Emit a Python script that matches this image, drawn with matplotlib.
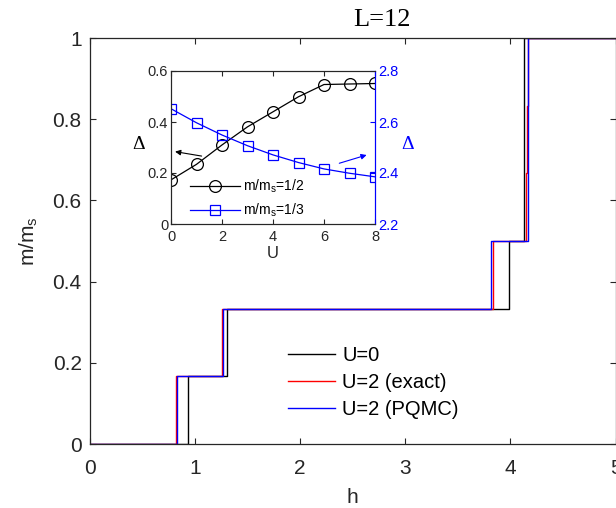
import matplotlib
matplotlib.use("Agg")
import matplotlib.pyplot as plt

plt.rcParams['font.family'] = ['Liberation Sans', 'DejaVu Sans']
plt.rcParams['mathtext.fontset'] = 'custom'
plt.rcParams['mathtext.rm'] = 'Liberation Sans'
plt.rcParams['mathtext.it'] = 'Liberation Sans'

# ---- main data: magnetization steps ----
m_levels = [0, 1/6, 1/3, 1/2, 2/3, 5/6, 1, 1]
h_U0 = [0, 0.93, 1.30, 3.985, 4.125, 4.128, 4.131, 5.2]
h_U2_exact = [0, 0.82, 1.26, 3.83, 4.152, 4.155, 4.165, 5.2]
h_U2_pqmc = [0, 0.825, 1.265, 3.82, 4.168, 4.17, 4.172, 5.2]
series_labels = ['U=0', 'U=2 (exact)', 'U=2 (PQMC)']
series_colors = ['black', 'red', 'blue']

x_ticks = [0, 1, 2, 3, 4, 5]
y_ticks = [0, 0.2, 0.4, 0.6, 0.8, 1]

# ---- inset data ----
U_vals = [0, 1, 2, 3, 4, 5, 6, 7, 8]
gap_half = [0.173, 0.234, 0.310, 0.381, 0.440, 0.499, 0.547, 0.549, 0.551]
gap_third = [2.652, 2.597, 2.549, 2.507, 2.471, 2.441, 2.416, 2.399, 2.385]
inset_labels = ['m/m$_\\mathregular{s}$=1/2', 'm/m$_\\mathregular{s}$=1/3']

W, H = 616, 508
fig = plt.figure(figsize=(W/100, H/100), dpi=100)

def fr(x0, y0, x1, y1):
    return [x0/W, 1 - y1/H, (x1-x0)/W, (y1-y0)/H]

spine_c = '#262626'
ax = fig.add_axes(fr(90, 38, 615.5, 444))
hs = [h_U0, h_U2_exact, h_U2_pqmc]
for h, lab, c in zip(hs, series_labels, series_colors):
    ax.plot(h, m_levels, drawstyle='steps-post', color=c, lw=1.0, label=lab)
ax.set_xlim(0, 5)
ax.set_ylim(0, 1)
ax.set_xticks(x_ticks)
ax.set_yticks(y_ticks)
ax.set_yticklabels(['0', '0.2', '0.4', '0.6', '0.8', '1'])
ax.tick_params(direction='in', top=True, right=True, length=4.5, width=0.8,
               color=spine_c, labelsize=15, labelcolor='#262626')
ax.tick_params(axis='x', pad=11)
ax.tick_params(axis='y', pad=6)
for s in ax.spines.values():
    s.set_color(spine_c)
    s.set_linewidth(0.9)
ax.set_xlabel('h', fontsize=15, color='#262626')
ax.xaxis.set_label_coords(0.5, -0.108)
ax.set_ylabel('m/m$_\\mathregular{s}$', fontsize=15, color='#262626')
ax.yaxis.set_label_coords(-0.095, 0.5)
leg = ax.legend(loc='upper left', bbox_to_anchor=((288-90)/525.5, (444-346)/406),
                frameon=False, fontsize=14.5, handlelength=2.35, handletextpad=0.35,
                labelspacing=0.39, borderaxespad=0, borderpad=0)

fig.text(382/W, 1 - 26.5/H, 'L=12', family='Liberation Serif', fontsize=19,
         ha='center', va='baseline')

# ---- inset ----
ai = fig.add_axes(fr(171, 71, 375, 224))
l1, = ai.plot(U_vals, gap_half, '-o', color='black', lw=0.9, ms=8.5,
              mfc='none', mew=0.9, label=inset_labels[0])
ai.set_xlim(0, 8)
ai.set_ylim(0, 0.6)
ai.set_xticks([0, 2, 4, 6, 8])
ai.set_yticks([0, 0.2, 0.4, 0.6])
ai.set_yticklabels(['0', '0.2', '0.4', '0.6'])
ai.tick_params(direction='in', top=True, length=3.5, width=0.8, labelsize=10.5,
               color=spine_c, labelcolor='#262626')
ai.tick_params(axis='y', pad=2)
ai.tick_params(axis='x', pad=4)
ai.set_xlabel('U', fontsize=12, color='#262626', labelpad=2)
ai2 = ai.twinx()
l2, = ai2.plot(U_vals, gap_third, '-s', color='blue', lw=0.9, ms=7,
               mfc='none', mew=0.9, label=inset_labels[1])
ai2.set_ylim(2.2, 2.8)
ai2.set_yticks([2.2, 2.4, 2.6, 2.8])
ai2.tick_params(direction='in', length=3.5, width=0.8, labelsize=10.5,
                color='blue', labelcolor='blue', pad=2)
for s in ['left', 'top', 'bottom']:
    ai.spines[s].set_color(spine_c)
    ai2.spines[s].set_color(spine_c)
ai2.spines['right'].set_color('blue')
ai.spines['right'].set_color('blue')

ai2.legend(handles=[l1, l2], loc='upper left',
           bbox_to_anchor=((190-171)/204, (224-178)/153), frameon=False,
           fontsize=10, handlelength=3.6, handletextpad=0.22, labelspacing=0.45,
           borderaxespad=0, borderpad=0)

ai.annotate('', xy=(0.02, 0.473), xytext=(0.15, 0.444), xycoords='axes fraction',
            arrowprops=dict(arrowstyle='-|>', color='black', lw=0.8,
                            mutation_scale=8, shrinkA=0, shrinkB=0))
ai.annotate('', xy=(0.959, 0.451), xytext=(0.825, 0.397), xycoords='axes fraction',
            arrowprops=dict(arrowstyle='-|>', color='blue', lw=0.8,
                            mutation_scale=8, shrinkA=0, shrinkB=0))

fig.text(139/W, 1 - 145/H, '\u0394', family='Liberation Serif', fontsize=14,
         ha='center', va='center', color='black')
fig.text(408/W, 1 - 145/H, '\u0394', family='Liberation Serif', fontsize=14,
         ha='center', va='center', color='blue')

fig.savefig('out.png', dpi=100)
